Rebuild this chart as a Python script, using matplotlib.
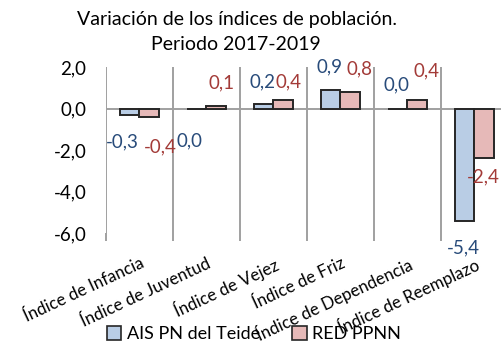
import numpy as np
import matplotlib.pyplot as plt
from matplotlib.patches import Patch

plt.rcParams['font.family'] = ['Lato', 'DejaVu Sans']

categorias = ["Índice de Infancia", "Índice de Juventud", "Índice de Vejez",
              "Índice de Friz", "Índice de Dependencia", "Índice de Reemplazo"]
ais_teide = [-0.3, 0.0, 0.2, 0.9, 0.0, -5.4]
red_ppnn = [-0.4, 0.1, 0.4, 0.8, 0.4, -2.4]

# where the value labels sit (category units, data units), placed by hand
ais_label_x = [-0.26, 0.75, 1.84, 2.84, 3.84, 4.84]
ais_label_y = [-1.6, -1.55, 1.3, 2.0, 1.15, -6.7]
red_label_x = [0.31, 1.22, 2.23, 3.29, 4.28, 5.13]
red_label_y = [-1.85, 1.25, 1.3, 1.9, 1.8, -3.3]

c_ais, c_red = "#B9CDE5", "#E6B9B8"
t_ais, t_red = "#284B7A", "#A33B38"

def fmt(v):
    return f"{v:.1f}".replace(".", ",")

fig = plt.figure(figsize=(5.02, 3.47), dpi=100)
ax = fig.add_axes([106/502, 1-233/347, 402/502, 166/347])

x = np.arange(len(categorias))
w = 0.285
ax.bar(x - w/2, ais_teide, w, color=c_ais, edgecolor="#262626", linewidth=1.4, zorder=3)
ax.bar(x + w/2, red_ppnn, w, color=c_red, edgecolor="#262626", linewidth=1.4, zorder=3)

for i in range(len(categorias)):
    ax.text(ais_label_x[i], ais_label_y[i], fmt(ais_teide[i]), color=t_ais,
            ha="center", va="center", fontsize=13.5, zorder=4)
    ax.text(red_label_x[i], red_label_y[i], fmt(red_ppnn[i]), color=t_red,
            ha="center", va="center", fontsize=13.5, zorder=4)

ax.set_xlim(-0.5, len(categorias) - 0.5)
ax.set_ylim(-6, 2)
ax.set_yticks([2, 0, -2, -4, -6])
ax.set_yticklabels([fmt(v) for v in [2, 0, -2, -4, -6]], fontsize=13.5)

# gridlines on the category boundaries, labels centred under each pair
bounds = np.arange(-0.5, len(categorias), 1.0)
ax.set_xticks(bounds)
ax.set_xticklabels([])
ax.tick_params(axis="x", length=6, width=1.4, color="#A0A0A0")
ax.tick_params(axis="y", length=0, pad=14)
for b in bounds:
    ax.axvline(b, color="#A0A0A0", linewidth=1.4, zorder=1)
ax.axhline(0, color="#A0A0A0", linewidth=1.4, zorder=2)
for s in ax.spines.values():
    s.set_visible(False)

for i, cat in enumerate(categorias):
    ax.annotate(cat, xy=(x[i], -6), xytext=(0, -16), textcoords="offset points",
                ha="right", va="top", rotation=25, rotation_mode="anchor",
                fontsize=12.2, annotation_clip=False)

fig.text(237/502, 1-19/347, "Variación de los índices de población.",
         ha="center", va="center", fontsize=14)
fig.text(236/502, 1-45/347, "Periodo 2017-2019", ha="center", va="center", fontsize=14)

handles = [Patch(facecolor=c_ais, edgecolor="#262626", linewidth=1.2),
           Patch(facecolor=c_red, edgecolor="#262626", linewidth=1.2)]
fig.legend(handles, ["AIS PN del Teide", "RED PPNN"], loc="center",
           bbox_to_anchor=(254/502, 1-334/347), ncol=2, frameon=False,
           fontsize=13, handlelength=0.8, handleheight=0.8, handletextpad=0.3,
           columnspacing=1.8, borderpad=0)

fig.savefig("out.png", dpi=100)
